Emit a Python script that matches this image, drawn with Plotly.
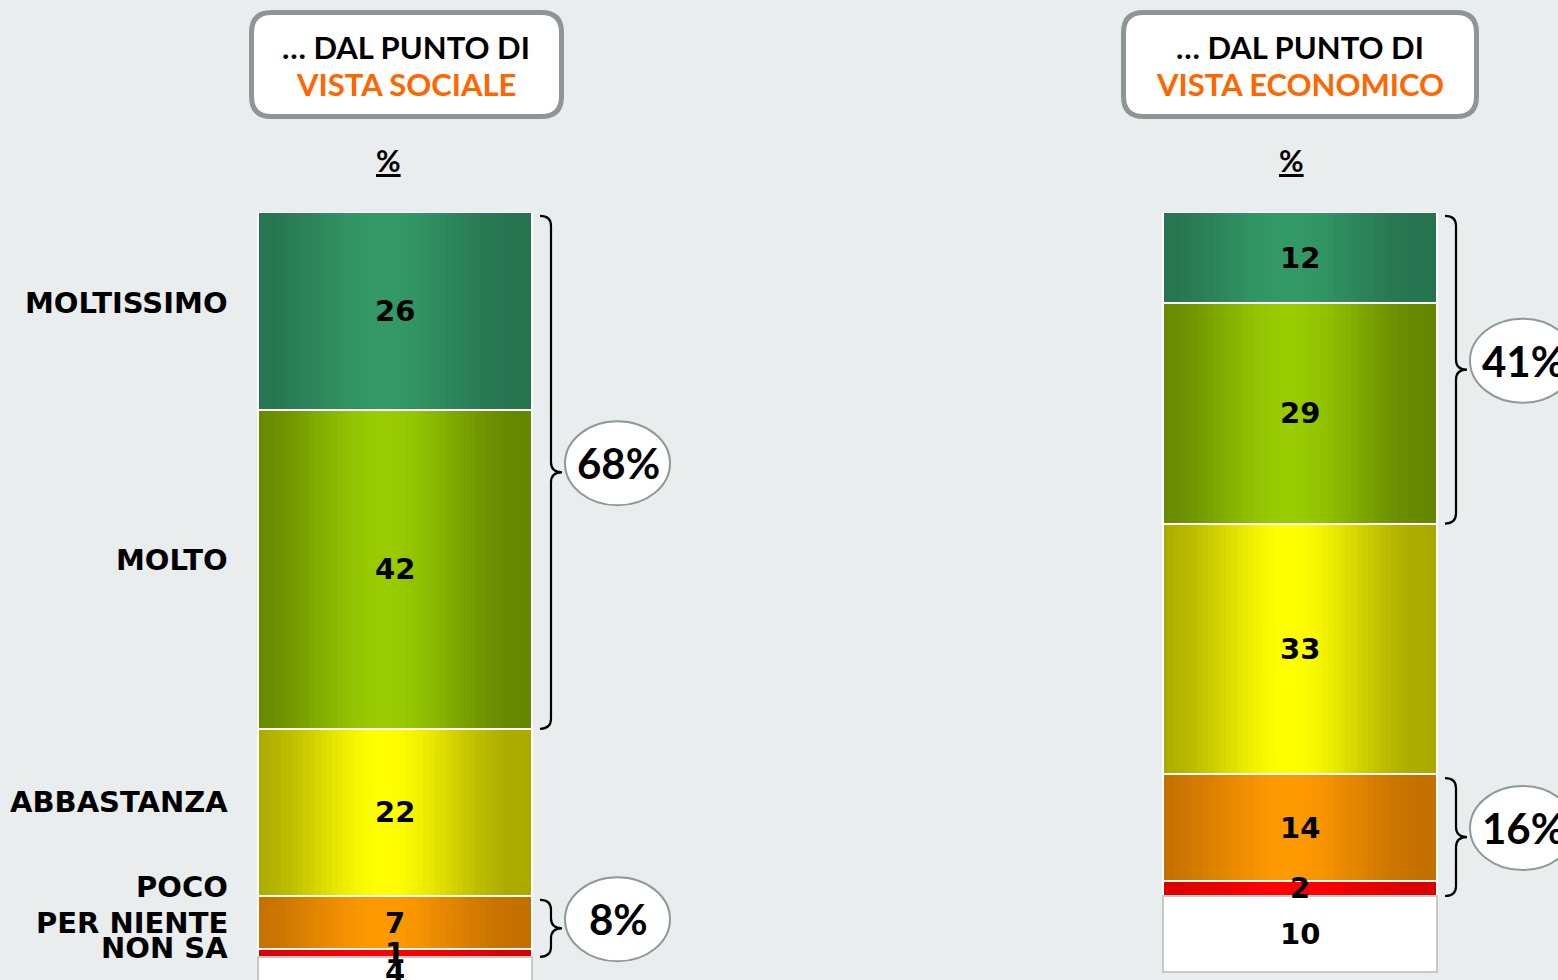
import numpy as np
import plotly.graph_objects as go

categories = ["MOLTISSIMO", "MOLTO", "ABBASTANZA", "POCO", "PER NIENTE", "NON SA"]
title_top = ["… DAL PUNTO DI", "… DAL PUNTO DI"]
title_bottom = ["VISTA SOCIALE", "VISTA ECONOMICO"]
sociale = [26, 42, 22, 7, 1, 4]
economico = [12, 29, 33, 14, 2, 10]
# segments joined by a brace: (first index, last index)
groups = [(0, 1), (3, 4)]

edge_colors = ["#267350", "#668800", "#aaaa00", "#c47000", "#dd0000", "#ffffff"]
mid_colors = ["#339966", "#99cc00", "#ffff00", "#ff9900", "#ff0000", "#ffffff"]

# layout in pixels
W_PX, H_PX = 1558, 980
PLOT_TOP = 212
PX_X = 905.0          # pixels per x unit (distance between the two columns)
PX_Y = 7.6            # pixels per percentage point
COL0_PX = 395
BAR_W = 274 / PX_X
BG = "#e9edee"
FONT = "DejaVu Sans"
TITLE_FONT = "Lato"


def hexrgb(h):
    h = h.lstrip("#")
    return np.array([int(h[i:i + 2], 16) for i in (0, 2, 4)], dtype=float)


def mix(c0, c1, p):
    c = hexrgb(c0) * (1 - p) + hexrgb(c1) * p
    return "rgb(%d,%d,%d)" % tuple(np.round(c))


def xp(x):
    return x / W_PX


def yp(y):
    return 1 - y / H_PX


columns = [sociale, economico]

# horizontal gradient, drawn as thin strips
N = 48
t = (np.arange(N) + 0.5) / N
prof = np.clip(1 - np.abs(t - 0.46) / 0.5, 0, 1)
prof = prof ** 2 * (3 - 2 * prof)

fig = go.Figure()
for i, cat in enumerate(categories):
    xs, ys, cs = [], [], []
    for c, vals in enumerate(columns):
        xs += list(c - BAR_W / 2 + t * BAR_W)
        ys += [vals[i]] * N
        cs += [mix(edge_colors[i], mid_colors[i], p) for p in prof]
    fig.add_trace(go.Bar(x=xs, y=ys, width=BAR_W / N * 1.08, name=cat,
                         marker=dict(color=cs, line=dict(width=0)),
                         showlegend=False, hoverinfo="skip"))

# segment outlines
for i, cat in enumerate(categories):
    lc = "#c8c8c8" if i == len(categories) - 1 else "white"
    fig.add_trace(go.Bar(x=[0, 1], y=[sociale[i], economico[i]], width=BAR_W, xaxis="x2",
                         marker=dict(color="rgba(0,0,0,0)", line=dict(color=lc, width=2)),
                         showlegend=False, hovertemplate=cat + ": %{y}<extra></extra>"))

ann = []
shapes = []
for c, vals in enumerate(columns):
    cum = np.cumsum(vals)
    mids = cum - np.array(vals) / 2
    for v, m in zip(vals, mids):
        ann.append(dict(x=c, y=m, xref="x", yref="y", text=str(v), showarrow=False,
                        font=dict(family=FONT, size=29, color="black", weight="bold")))
    edge = c + BAR_W / 2
    dx = 1 / PX_X
    dy = 1 / PX_Y
    for a, b in groups:
        y0 = cum[a] - vals[a] + 0.5
        y1 = cum[b]
        ym = (y0 + y1) / 2
        x0, xm, x1 = edge + 8 * dx, edge + 19 * dx, edge + 30 * dx
        r = min(10 * dy, (y1 - y0) / 4)
        path = (f"M {x0},{y0} Q {xm},{y0} {xm},{y0 + r} L {xm},{ym - r} "
                f"Q {xm},{ym} {x1},{ym} Q {xm},{ym} {xm},{ym + r} "
                f"L {xm},{y1 - r} Q {xm},{y1} {x0},{y1}")
        shapes.append(dict(type="path", path=path, xref="x", yref="y",
                           line=dict(color="black", width=2.2)))
        cx = edge + 86 * dx
        cy = ym - 9 * dy
        shapes.append(dict(type="circle", xref="x", yref="y",
                           x0=edge + 33 * dx, x1=edge + 138 * dx,
                           y0=cy - 42 * dy, y1=cy + 42 * dy,
                           fillcolor="white", line=dict(color="#8e9a9a", width=2)))
        ann.append(dict(x=cx, y=cy, xref="x", yref="y", text=f"{sum(vals[a:b + 1])}%",
                        showarrow=False,
                        font=dict(family=TITLE_FONT, size=42, color="black", weight="bold")))

# category labels
label_px = [303, 560, 802, 887, 923, 948]
for cat, py in zip(categories, label_px):
    ann.append(dict(x=xp(230), y=yp(py), xref="paper", yref="paper", text=cat,
                    xanchor="right", yanchor="middle", showarrow=False,
                    font=dict(family=FONT, size=29, color="black", weight="bold")))

# header boxes
boxes = [(249, 564, 406, 388), (1121, 1479, 1300, 1291)]
for k, (bx0, bx1, tc, pc) in enumerate(boxes):
    x0, x1 = xp(bx0 + 2.5), xp(bx1 - 2.5)
    ytop, ybot = yp(10 + 2.5), yp(119 - 2.5)
    rx, ry = 20 / W_PX, 20 / H_PX
    path = (f"M {x0 + rx},{ytop} L {x1 - rx},{ytop} Q {x1},{ytop} {x1},{ytop - ry} "
            f"L {x1},{ybot + ry} Q {x1},{ybot} {x1 - rx},{ybot} L {x0 + rx},{ybot} "
            f"Q {x0},{ybot} {x0},{ybot + ry} L {x0},{ytop - ry} Q {x0},{ytop} {x0 + rx},{ytop} Z")
    shapes.append(dict(type="path", path=path, xref="paper", yref="paper",
                       fillcolor="white", line=dict(color="#8c9696", width=5)))
    ann.append(dict(x=xp(tc), y=yp(47), xref="paper", yref="paper", text=title_top[k],
                    xanchor="center", yanchor="middle", showarrow=False,
                    font=dict(family=TITLE_FONT, size=31, color="black", weight="bold")))
    ann.append(dict(x=xp(tc), y=yp(84), xref="paper", yref="paper", text=title_bottom[k],
                    xanchor="center", yanchor="middle", showarrow=False,
                    font=dict(family=TITLE_FONT, size=31, color="#ff6600", weight="bold")))
    ann.append(dict(x=xp(pc), y=yp(160), xref="paper", yref="paper", text="<u>%</u>",
                    xanchor="center", yanchor="middle", showarrow=False,
                    font=dict(family=TITLE_FONT, size=30, color="black", weight="bold")))

xr = [-COL0_PX / PX_X, (W_PX - COL0_PX) / PX_X]
plot_h = H_PX - PLOT_TOP
fig.update_layout(
    width=W_PX, height=H_PX, barmode="stack", bargap=0,
    margin=dict(l=0, r=0, t=0, b=0),
    paper_bgcolor=BG, plot_bgcolor=BG,
    xaxis=dict(range=xr, visible=False, fixedrange=True),
    xaxis2=dict(range=xr, visible=False, overlaying="x", fixedrange=True),
    yaxis=dict(range=[plot_h / PX_Y, 0], domain=[0, plot_h / H_PX], visible=False,
               fixedrange=True),
    shapes=shapes, annotations=ann,
)
fig.write_html("out.html", config={"displayModeBar": False},
               post_script="document.body.style.margin='0';document.body.style.overflow='hidden';")
